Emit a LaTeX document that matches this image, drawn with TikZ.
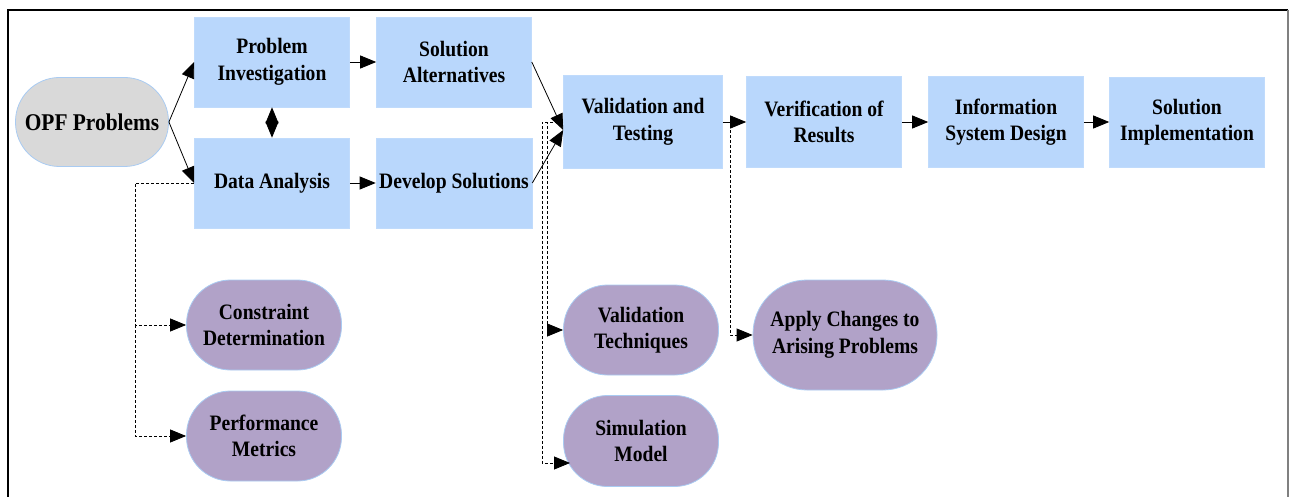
\documentclass[tikz,border=0pt]{standalone}
\usepackage{fontspec}
\setmainfont{Liberation Serif}[FakeStretch=0.89]
\usetikzlibrary{arrows.meta,positioning}
\definecolor{boxblue}{HTML}{B9D7FC}
\definecolor{ovalpurple}{HTML}{B1A2C8}
\definecolor{ovalgray}{HTML}{D9D9D9}
\definecolor{edgeblue}{HTML}{A9CBF2}
\tikzset{
  x=1pt,y=-1pt,
  txt/.style={font=\fontsize{22}{26.5}\selectfont\bfseries, align=center, text=black},
  sqbox/.style={txt, fill=boxblue, draw=boxblue!90!white, line width=0.6pt, minimum width=155pt, minimum height=90pt, inner sep=0pt},
  pill/.style={txt, draw=edgeblue, line width=0.8pt, rounded corners=44pt, minimum width=155pt, minimum height=90pt, inner sep=0pt},
  tip/.tip={Triangle[length=16pt,width=13pt]},
  flow/.style={-tip, line width=0.8pt},
  dflow/.style={-tip, line width=0.8pt, densely dashed},
}
\begin{document}
\begin{tikzpicture}
\useasboundingbox (0,0) rectangle (1289,497);
\draw[line width=2pt] (8,497) -- (8,10) -- (1288,10);
\draw[line width=1.5pt, gray] (1288,10) -- (1288,497);

\node[pill, fill=ovalgray, minimum width=153pt, minimum height=89pt, font=\fontsize{24}{28}\selectfont\bfseries] (opf) at (92,122) {OPF Problems};
\node[sqbox] (pi) at (272,62) {Problem\\Investigation};
\node[sqbox] (sa) at (454,62) {Solution\\Alternatives};
\node[sqbox] (da) at (272,183) {Data Analysis};
\node[sqbox, minimum width=156pt] (ds) at (454,183) {Develop Solutions};
\node[sqbox, minimum width=159pt, minimum height=93pt] (vt) at (643,122) {Validation and\\Testing};
\node[sqbox, minimum height=91pt] (vr) at (824,122) {Verification of\\Results};
\node[sqbox, minimum height=91pt] (isd) at (1006,122) {Information\\System Design};
\node[sqbox] (si) at (1187,122) {Solution\\Implementation};
\node[pill, fill=ovalpurple] (cd) at (264,325) {Constraint\\Determination};
\node[pill, fill=ovalpurple] (pm) at (264,436) {Performance\\Metrics};
\node[pill, fill=ovalpurple] (vtq) at (641,330) {Validation\\Techniques};
\node[pill, fill=ovalpurple, minimum height=91pt] (sm) at (641,441) {Simulation\\Model};
\node[pill, fill=ovalpurple, minimum width=184pt, minimum height=110pt, rounded corners=54pt] (ac) at (845,335) {Apply Changes to\\Arising Problems};

\coordinate (vtin) at ([yshift=-8pt]vt.west);
\coordinate (smin) at (570,463);
\draw[flow] (opf.east) -- (pi.west);
\draw[flow] (opf.east) -- (da.west);
\draw[tip-tip, line width=0.8pt] (pi.south) -- (da.north);
\draw[flow] (pi.east) -- (sa.west);
\draw[flow] (da.east) -- (ds.west);
\draw[flow] (sa.east) -- (vtin);
\draw[flow] (ds.east) -- (vtin);
\draw[flow] (vt.east) -- (vr.west);
\draw[flow] (vr.east) -- (isd.west);
\draw[flow] (isd.east) -- (si.west);

\draw[dflow] (da.west) -| (135,325) -- (cd.west);
\draw[dflow] (135,325) |- (pm.west);
\draw[dflow] (vt.west) -| (547,330) -- (vtq.west);
\draw[dflow] (vt.west) -| (542,463) -- (smin);
\draw[dflow] (vt.east) -| (730,335) -- (ac.west);
\end{tikzpicture}
\end{document}
